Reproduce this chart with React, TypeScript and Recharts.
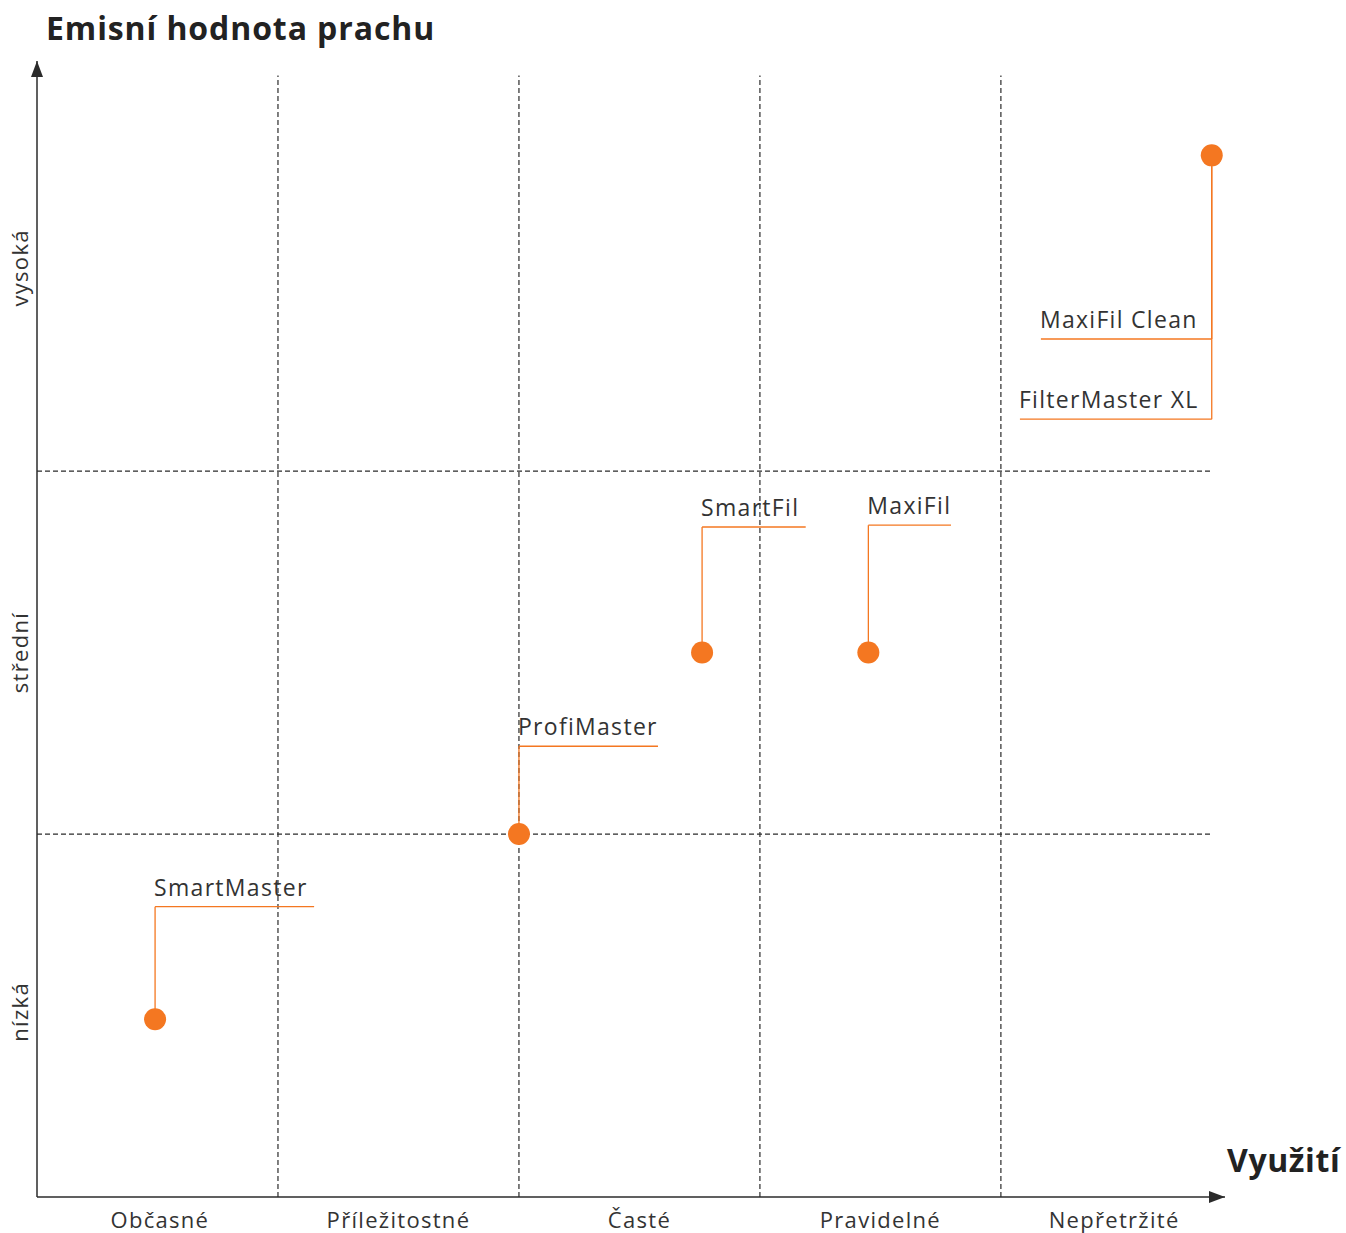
import React from 'react';
import {
  ScatterChart,
  Scatter,
  XAxis,
  YAxis,
  ReferenceLine,
  ReferenceDot,
} from 'recharts';

// kategorie využití (osa X) a úrovně emisí (osa Y)
const usageLabels = ['Občasné', 'Příležitostné', 'Časté', 'Pravidelné', 'Nepřetržité'];
const usageTicks = [0.51, 1.5, 2.5, 3.5, 4.47];
const emissionLabels = ['nízká', 'střední', 'vysoká'];
const emissionTicks = [0.51, 1.5, 2.56];

const xGrid = [1, 2, 3, 4];
const yGrid = [1, 2];

// produkty
const products = [
  { name: 'SmartMaster', x: 0.49, y: 0.49 },
  { name: 'ProfiMaster', x: 2.0, y: 1.0 },
  { name: 'SmartFil', x: 2.76, y: 1.5 },
  { name: 'MaxiFil', x: 3.45, y: 1.5 },
  { name: 'MaxiFil Clean', x: 4.875, y: 2.87 },
];

// popisky: začátek podtržení, konec podtržení, výška podtržení, odkud vede spojnice
const labels = [
  { name: 'SmartMaster', x0: 0.49, x1: 1.15, y: 0.8, from: 0.49 },
  { name: 'ProfiMaster', x0: 2.0, x1: 2.577, y: 1.242, from: 1.0 },
  { name: 'SmartFil', x0: 2.76, x1: 3.19, y: 1.846, from: 1.5 },
  { name: 'MaxiFil', x0: 3.45, x1: 3.793, y: 1.851, from: 1.5 },
  { name: 'MaxiFil Clean', x0: 4.166, x1: 4.875, y: 2.364, from: 2.87 },
  { name: 'FilterMaster XL', x0: 4.079, x1: 4.875, y: 2.143, from: 2.87 },
];

const X_MAX = 4.93;
const Y_MAX = 3.13;
const GRID_TOP = 3.09;
const GRID_RIGHT = 4.875;

const ORANGE = '#F47721';
const DARK = '#2b2b2b';
const FONT = '"Open Sans", sans-serif';

const XTick = (props: any) => {
  const { x, y, payload } = props;
  const i = usageTicks.indexOf(payload.value);
  return (
    <text x={x} y={y + 23} textAnchor="middle" fontSize={22} fill="#333" fontFamily={FONT} letterSpacing={1.3}>
      {usageLabels[i]}
    </text>
  );
};

const YTick = (props: any) => {
  const { y, payload } = props;
  const i = emissionTicks.indexOf(payload.value);
  return (
    <text
      x={28}
      y={y}
      transform={`rotate(-90, 28, ${y})`}
      textAnchor="middle"
      fontSize={22}
      fill="#333"
      fontFamily={FONT}
      letterSpacing={1.3}
    >
      {emissionLabels[i]}
    </text>
  );
};

const LabelText = (props: any) => {
  const { cx, cy, payload } = props;
  return (
    <text x={cx - 1} y={cy - 11} fontSize={23} fill="#333" fontFamily={FONT} letterSpacing={1.3}>
      {payload.name}
    </text>
  );
};

const Dot = (props: any) => {
  const { cx, cy } = props;
  return <circle cx={cx} cy={cy} r={11} fill={ORANGE} />;
};

const UpArrow = (props: any) => {
  const { cx, cy } = props;
  return <path d={`M${cx - 6},${cy + 16} L${cx},${cy} L${cx + 6},${cy + 16} Z`} fill={DARK} />;
};

const RightArrow = (props: any) => {
  const { cx, cy } = props;
  return <path d={`M${cx - 16},${cy - 6} L${cx},${cy} L${cx - 16},${cy + 6} Z`} fill={DARK} />;
};

export default function App() {
  return (
    <div style={{ position: 'absolute', left: 0, top: 0, width: 1346, height: 1233, background: '#fff' }}>
      <div
        style={{
          position: 'absolute',
          left: 46,
          top: 6,
          fontFamily: FONT,
          fontWeight: 700,
          fontSize: 32,
          color: '#222',
          letterSpacing: 0.9,
        }}
      >
        Emisní hodnota prachu
      </div>
      <div
        style={{
          position: 'absolute',
          left: 1227,
          top: 1138,
          fontFamily: FONT,
          fontWeight: 700,
          fontSize: 32,
          color: '#222',
          letterSpacing: 0.6,
        }}
      >
        Využití
      </div>
      <ScatterChart width={1346} height={1233} margin={{ top: 61, right: 121, bottom: 0, left: 0 }}>
        <XAxis
          type="number"
          dataKey="x"
          domain={[0, X_MAX]}
          ticks={usageTicks}
          tick={<XTick />}
          tickLine={false}
          height={36}
          axisLine={{ stroke: DARK, strokeWidth: 1.5 }}
          allowDataOverflow
        />
        <YAxis
          type="number"
          dataKey="y"
          domain={[0, Y_MAX]}
          ticks={emissionTicks}
          tick={<YTick />}
          tickLine={false}
          width={37}
          axisLine={{ stroke: DARK, strokeWidth: 1.5 }}
          allowDataOverflow
        />
        {xGrid.map((v) => (
          <ReferenceLine
            key={'vx' + v}
            segment={[{ x: v, y: 0 }, { x: v, y: GRID_TOP }]}
            stroke={DARK}
            strokeDasharray="5 3"
            strokeWidth={1.2}
          />
        ))}
        {yGrid.map((v) => (
          <ReferenceLine
            key={'hy' + v}
            segment={[{ x: 0, y: v }, { x: GRID_RIGHT, y: v }]}
            stroke={DARK}
            strokeDasharray="5 3"
            strokeWidth={1.2}
          />
        ))}
        {labels.map((l) => {
          const cx = l.x1 > GRID_RIGHT - 0.01 ? l.x1 : l.x0;
          return (
            <ReferenceLine
              key={'c' + l.name}
              segment={[{ x: cx, y: l.from }, { x: cx, y: l.y }]}
              stroke={ORANGE}
              strokeWidth={1.3}
            />
          );
        })}
        {labels.map((l) => (
          <ReferenceLine
            key={'u' + l.name}
            segment={[{ x: l.x0, y: l.y }, { x: l.x1, y: l.y }]}
            stroke={ORANGE}
            strokeWidth={1.3}
          />
        ))}
        <Scatter
          data={labels.map((l) => ({ x: l.x0, y: l.y, name: l.name }))}
          shape={<LabelText />}
          isAnimationActive={false}
        />
        <Scatter data={products} fill={ORANGE} shape={<Dot />} isAnimationActive={false} />
        <ReferenceDot x={0} y={Y_MAX} r={0} shape={<UpArrow />} ifOverflow="visible" />
        <ReferenceDot x={X_MAX} y={0} r={0} shape={<RightArrow />} ifOverflow="visible" />
      </ScatterChart>
    </div>
  );
}
